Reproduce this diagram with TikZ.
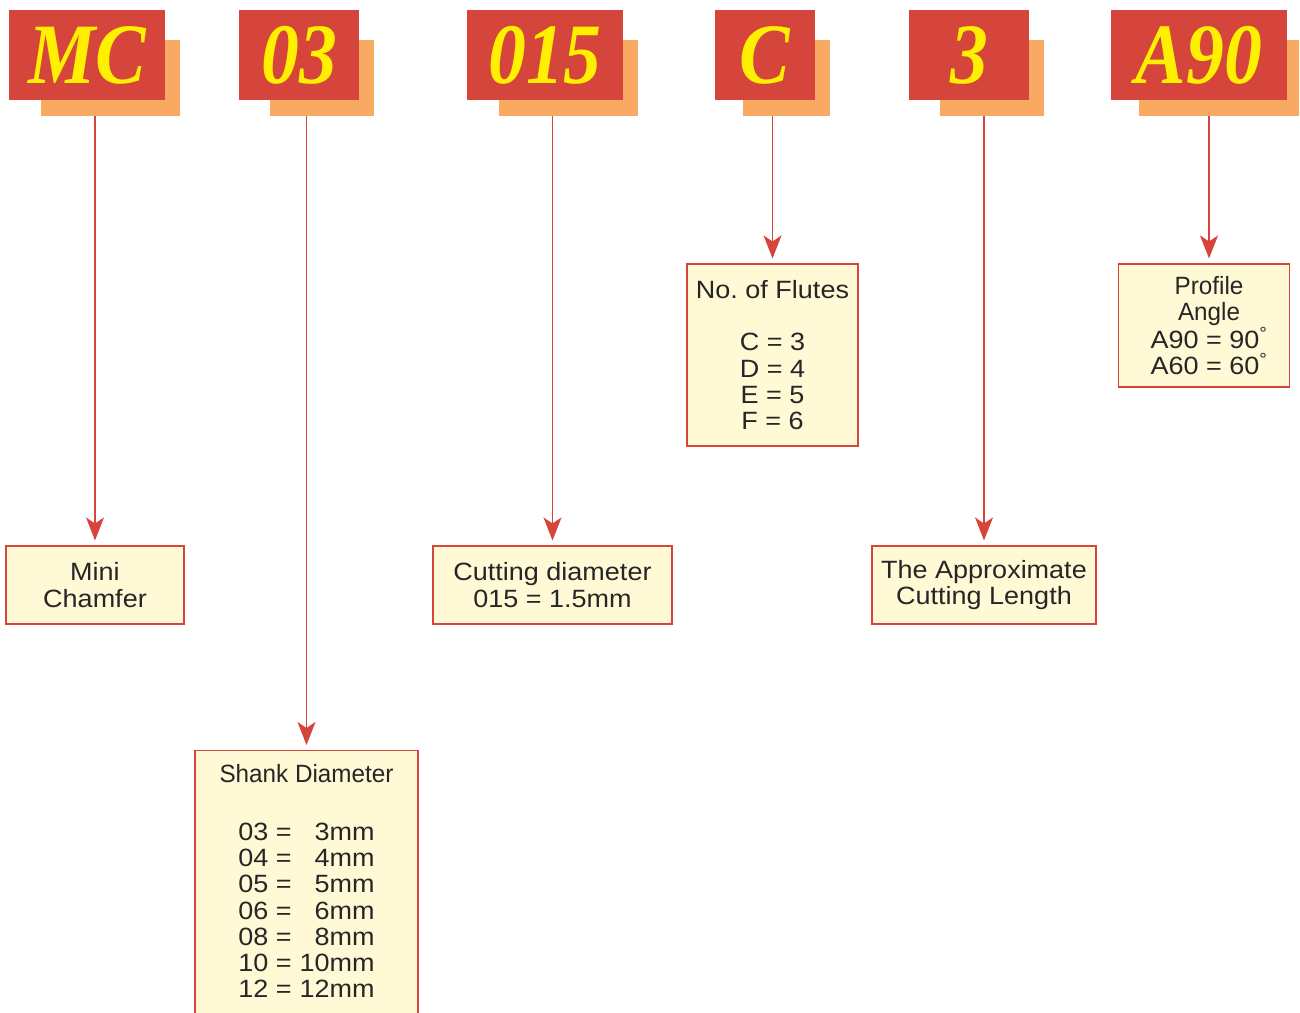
\documentclass[tikz,border=0pt]{standalone}
\usepackage{fontspec}
\setmainfont{Liberation Serif}
\setsansfont{Liberation Sans}
\newfontfamily\codefont{Liberation Serif}[FakeStretch=0.88]
\newfontfamily\notefont{Liberation Sans}[FakeStretch=1.08]
\newfontfamily\narrownote{Liberation Sans}[FakeStretch=0.97]
\usetikzlibrary{arrows.meta, positioning}
\definecolor{codered}{RGB}{214,69,60}
\definecolor{codeshade}{RGB}{248,170,98}
\definecolor{codeyellow}{RGB}{255,240,0}
\definecolor{notecream}{RGB}{255,249,214}

\begin{document}
\frenchspacing
\begin{tikzpicture}[
    x=1pt, y=-1pt,
    codebox/.style={rectangle, fill=codered, text=codeyellow, inner sep=0pt,
      minimum height=90pt, font=\codefont\fontsize{86}{90}\selectfont\bfseries\itshape},
    shadebox/.style={rectangle, fill=codeshade, inner sep=0pt, minimum height=76pt},
    notebox/.style={rectangle, draw=codered, fill=notecream, line width=1.1pt, align=center,
      inner sep=0pt, font=\notefont\fontsize{25}{26.2}\selectfont, text=black!85},
    arrow/.style={-{Stealth[length=23pt, width=18pt, inset=6pt]}, draw=codered, fill=codered,
      line width=1.3pt, shorten >=5pt}
]
\useasboundingbox (0,0) rectangle (1300,1012);

% code boxes with their shadows
\node[shadebox, minimum width=139pt] (mcshade) at (110.5,78) {};
\node[codebox, minimum width=156pt] (mc) at (87,55) {MC};
\node[shadebox, minimum width=104pt] (shankshade) at (322,78) {};
\node[codebox, minimum width=120pt] (shank) at (299,55) {03};
\node[shadebox, minimum width=139pt] (diashade) at (568.5,78) {};
\node[codebox, minimum width=156pt] (dia) at (545,55) {015};
\node[shadebox, minimum width=87pt] (fluteshade) at (786.5,78) {};
\node[codebox, minimum width=100pt] (flute) at (765,55) {C};
\node[shadebox, minimum width=104pt] (lengthshade) at (992,78) {};
\node[codebox, minimum width=120pt] (length) at (969,55) {3};
\node[shadebox, minimum width=160pt] (angleshade) at (1219,78) {};
\node[codebox, minimum width=176pt] (angle) at (1199,55) {A90};

% explanations
\node[notebox, minimum width=178pt, minimum height=78pt] (mcnote) at (95,585) {Mini\\Chamfer};
\node[notebox, minimum width=239pt, minimum height=78pt] (dianote) at (552.5,585) {Cutting diameter\\015 = 1.5mm};
\node[notebox, minimum width=224pt, minimum height=78pt] (lengthnote) at (984,585) {The Approximate\\Cutting Length};
\node[notebox, minimum width=171pt, minimum height=182pt] (flutenote) at (772.5,355)
  {No. of Flutes\\[26.2pt] C = 3\\D = 4\\E = 5\\F = 6};
\node[notebox, minimum width=171pt, minimum height=123pt] (anglenote) at (1204,325.5)
  {\hspace*{10pt}{\narrownote Profile}\\\hspace*{10pt}{\narrownote Angle}\\\hspace*{10pt}A90 = 90\textsuperscript{°}\\\hspace*{10pt}A60 = 60\textsuperscript{°}};
\coordinate (angletip) at ([xshift=5pt]anglenote.north);
\node[notebox, minimum width=223pt, anchor=north] (shanknote) at (306.5,750)
  {\rule{0pt}{32pt}{\narrownote Shank Diameter}\\[31.8pt]
   \begin{tabular}[t]{@{}l@{\hspace{8pt}}r@{}}
   03 = & 3mm\\ 04 = & 4mm\\ 05 = & 5mm\\ 06 = & 6mm\\
   08 = & 8mm\\ 10 = & 10mm\\ 12 = & 12mm
   \end{tabular}\\\rule{0pt}{40pt}};

% connectors
\draw[arrow] (mcnote.north |- mcshade.south) -- (mcnote.north);
\draw[arrow] (shanknote.north |- shankshade.south) -- (shanknote.north);
\draw[arrow] (dianote.north |- diashade.south) -- (dianote.north);
\draw[arrow] (flutenote.north |- fluteshade.south) -- (flutenote.north);
\draw[arrow] (lengthnote.north |- lengthshade.south) -- (lengthnote.north);
\draw[arrow] (angletip |- angleshade.south) -- (angletip);
\end{tikzpicture}
\end{document}
